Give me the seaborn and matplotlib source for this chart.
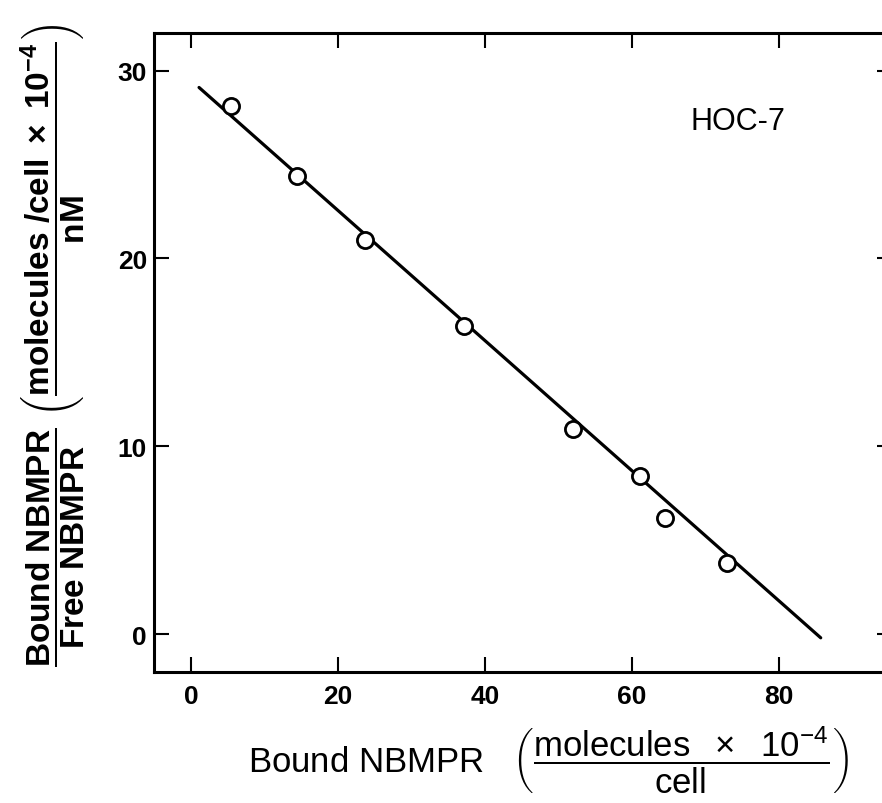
import numpy as np
import pandas as pd
import matplotlib
matplotlib.use('Agg')
import matplotlib.pyplot as plt
import seaborn as sns

# Data (Scatchard plot, HOC-7 cells)
bound = [5.4, 14.4, 23.7, 37.1, 52.0, 61.1, 64.5, 72.9]
ratio = [28.1, 24.4, 21.0, 16.4, 10.9, 8.4, 6.2, 3.8]
fit_x = [1.1, 85.7]
fit_y = [29.1, -0.2]
xticks = [0, 20, 40, 60, 80]
yticks = [0, 10, 20, 30]
cell_line = "HOC-7"

sns.set_theme(style='ticks')
plt.rcParams['font.family'] = ['Liberation Sans', 'DejaVu Sans']
plt.rcParams['mathtext.fontset'] = 'custom'
plt.rcParams['mathtext.rm'] = 'Liberation Sans'
plt.rcParams['mathtext.it'] = 'Liberation Sans:italic'
plt.rcParams['mathtext.bf'] = 'Liberation Sans:bold'
plt.rcParams['mathtext.default'] = 'regular'

W, H = 882, 804
fig = plt.figure(figsize=(W / 100, H / 100), dpi=100)
fig.patch.set_facecolor('white')
ax = fig.add_axes([154 / W, 1 - 673 / H, 738 / W, 639 / H])
ax.set_facecolor('white')

df_pts = pd.DataFrame({'bound': bound, 'ratio': ratio})
df_fit = pd.DataFrame({'bound': fit_x, 'ratio': fit_y})

sns.lineplot(data=df_fit, x='bound', y='ratio', ax=ax, color='black',
             linewidth=2.3, sort=False, estimator=None, zorder=2)
sns.scatterplot(data=df_pts, x='bound', y='ratio', ax=ax, s=135,
                color='white', edgecolor='black', linewidth=2.0, zorder=3)

ax.set_xlim(-5.03, 95.4)
ax.set_ylim(-2.02, 32.0)
ax.set_xticks(xticks)
ax.set_yticks(yticks)
ax.set_xticklabels([str(t) for t in xticks])
ax.set_yticklabels([str(t) for t in yticks])
ax.tick_params(direction='in', length=11, width=1.5, top=True, right=True,
               labelsize=19, colors='black')
ax.tick_params(axis='x', pad=9)
ax.tick_params(axis='y', pad=5)
for lab in ax.get_xticklabels() + ax.get_yticklabels():
    lab.set_fontweight('bold')
for sp in ax.spines.values():
    sp.set_linewidth(2.2)
    sp.set_color('black')
ax.set_xlabel('')
ax.set_ylabel('')

ax.text(74.4, 27.3, cell_line, fontsize=22, ha='center', va='center', color='black')

xl = (r"Bound NBMPR   $\left(\dfrac{molecules\ \ \times\ \ 10^{-4}}{cell}\right)$")
fig.text(248 / W, 1 - 760 / H, xl, fontsize=25, ha='left', va='center', color='black')

yl = (r"$\dfrac{Bound\ NBMPR}{Free\ NBMPR}\ "
      r"\left(\dfrac{molecules\ /cell\ \times\ 10^{-4}}{nM}\right)$")
fig.text(53 / W, 1 - 345 / H, yl, fontsize=24, fontweight='bold', rotation=90,
         ha='center', va='center', color='black')

fig.savefig('out.png', dpi=100, facecolor='white')
